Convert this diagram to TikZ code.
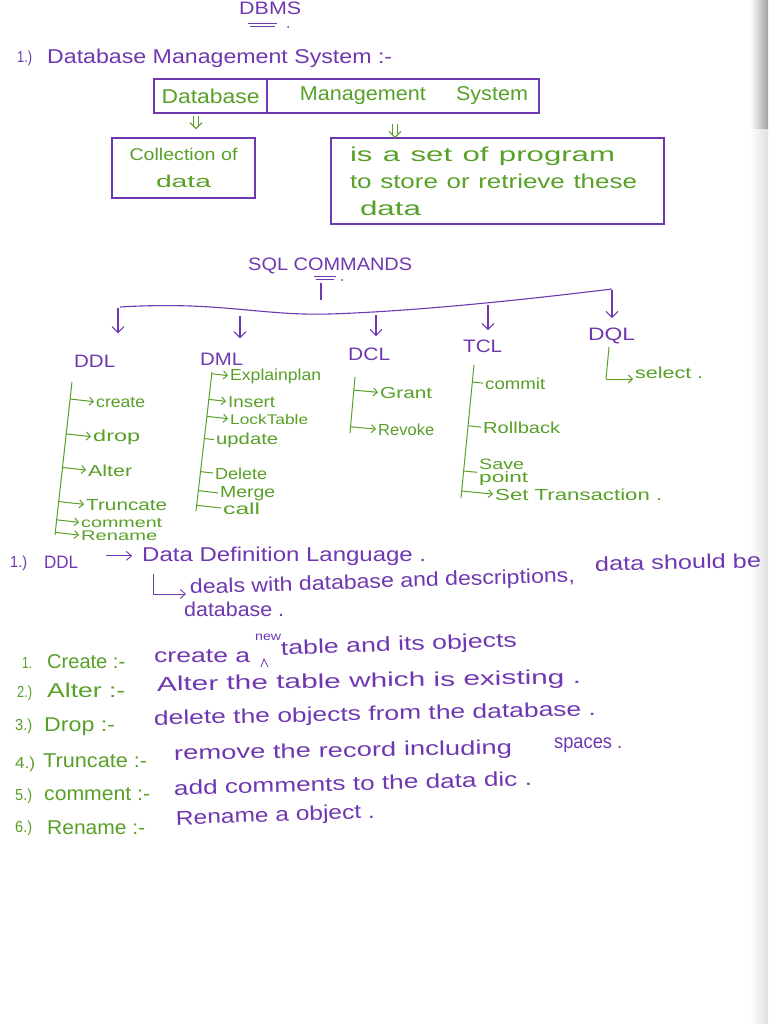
\documentclass[tikz,border=0pt]{standalone}
\usepackage{fontspec}
\setmainfont{Liberation Sans}
\usepackage{graphicx}
\usetikzlibrary{arrows.meta,calc}
\definecolor{pur}{RGB}{112,56,176}
\definecolor{grn}{RGB}{88,160,40}
\newcommand\fw[2]{\resizebox{#1pt}{\height}{#2}}
\tikzset{
 ptext/.style={text=pur, inner sep=0pt, anchor=base west, font=\fontsize{20}{24}\selectfont},
 gtext/.style={text=grn, inner sep=0pt, anchor=base west, font=\fontsize{20}{24}\selectfont},
 fsmall/.style={font=\fontsize{16}{19}\selectfont},
 ftiny/.style={font=\fontsize{14}{16}\selectfont},
 fhead/.style={font=\fontsize{18}{21}\selectfont},
 pline/.style={draw=pur, line width=1.1pt},
 gline/.style={draw=grn, line width=1pt},
 parr/.style={pline, -{Straight Barb[length=6pt,width=12pt]}},
 garr/.style={gline, -{Straight Barb[length=4pt,width=8pt]}, shorten >=2pt},
 gdash/.style={gline, shorten >=2pt},
 dblstem/.style={draw=grn, double, double distance=3.5pt, line width=1pt},
 pbox/.style={draw=pur, line width=1.1pt, text=grn, inner sep=0pt},
}
\begin{document}
\begin{tikzpicture}[x=1pt,y=-1pt]
\useasboundingbox (0,0) rectangle (768,1024);
\fill[white] (0,0) rectangle (768,1024);
\shade[left color=white, right color=gray!75] (750,0) rectangle (768,130);
\shade[left color=white, right color=gray!25] (750,130) rectangle (768,1024);

% ---- header
\node[ptext,fhead] (dbms) at (239,15) {\fw{62}{DBMS}};
\draw[pline,line width=0.8pt] (248,23) -- (277,23) (250,26) -- (275,26);
\fill[pur] (288,27) circle (1);
\node[ptext,fsmall] (n1) at (17,63) {\fw{15}{1.)}};
\node[ptext] (dbmsdef) at (47,64) {\fw{345}{Database Management System :-}};

% ---- boxes
\node[pbox, minimum width=113pt, minimum height=34pt, font=\fontsize{20}{24}\selectfont] (dbcell) at (210.5,96) {\fw{98}{Database}};
\node[pbox, minimum width=272pt, minimum height=34pt, font=\fontsize{20}{24}\selectfont] (mscell) at (403,96) {\hspace*{22pt}\fw{228}{Management\hspace{28pt}System}};
\node[pbox, minimum width=143pt, minimum height=60pt, align=center, font=\fontsize{17}{27}\selectfont] (coll) at (183.5,168) {\fw{108}{Collection of}\\\fw{55}{data}};
\node[pbox, minimum width=333pt, minimum height=86pt, text width=295pt, align=left, inner xsep=19pt, font=\fontsize{20}{27}\selectfont] (prog) at (497.5,181) {\fw{265}{is a set of program}\\\fw{287}{to store or retrieve these}\\\hspace*{10pt}\fw{61}{data}};

% double arrows (Database -> Collection, Management System -> program)
\coordinate (v1a) at ([xshift=-14.5pt]dbcell.south);
\coordinate (v1b) at ($(v1a)+(0,15)$);
\draw[dblstem] ($(v1a)+(0,2)$) -- ($(v1b)+(0,-2)$);
\draw[gline] ($(v1b)+(-6,-6)$) -- (v1b) -- ($(v1b)+(6,-6)$);
\coordinate (v2b) at ([xshift=-102.5pt]prog.north);
\coordinate (v2a) at ($(v2b)+(0,-13)$);
\draw[dblstem] (v2a) -- ($(v2b)+(0,-2)$);
\draw[gline] ($(v2b)+(-6,-6)$) -- (v2b) -- ($(v2b)+(6,-6)$);

% ---- SQL commands
\node[ptext,fhead] (sql) at (248,270) {\fw{164}{SQL COMMANDS}};
\draw[pline,line width=0.8pt] (314,276) -- (336,276) (316,279) -- (334,279);
\fill[pur] (342,280) circle (1);
\coordinate (stemtop) at (321,283);
\coordinate (stem) at (321,300);
\draw[pline] (stemtop) -- (stem);
\coordinate (barL) at (120,307);
\coordinate (barR) at (612,289);
\draw[pline] (barL) .. controls (220,301) and (260,316) .. (330,314) .. controls (420,311) and (530,299) .. (barR);

\node[ptext,fhead] (ddl) at (74,367) {\fw{41}{DDL}};
\node[ptext,fhead] (dml) at (200,365) {\fw{43}{DML}};
\node[ptext,fhead] (dcl) at (348,360) {\fw{42}{DCL}};
\node[ptext,fhead] (tcl) at (463,352) {\fw{39}{TCL}};
\node[ptext,fhead] (dql) at (588,340) {\fw{47}{DQL}};

\coordinate (a1) at (118,308);
\coordinate (a2) at (240,316);
\coordinate (a3) at (376,315);
\coordinate (a4) at (488,305);
\coordinate (a5) at (612,290);
\draw[parr, shorten >=21pt] (a1) -- (a1 |- ddl.north);
\draw[parr, shorten >=14pt] (a2) -- (a2 |- dml.north);
\draw[parr, shorten >=11pt] (a3) -- (a3 |- dcl.north);
\draw[parr, shorten >=9pt] (a4) -- (a4 |- tcl.north);
\draw[parr, shorten >=9pt] (a5) -- (a5 |- dql.north);

% DDL tree
\coordinate (dt1) at (72,382);
\coordinate (dt2) at (55,535);
\draw[gline] (dt1) -- (dt2);
\node[gtext,fsmall] (create) at (96,407) {\fw{49}{create}};
\node[gtext,fsmall] (drop) at (93,441) {\fw{47}{drop}};
\node[gtext,fsmall] (alter) at (88,476) {\fw{44}{Alter}};
\node[gtext,fsmall] (trunc) at (86,510) {\fw{81}{Truncate}};
\node[gtext,ftiny] (comm) at (81,527) {\fw{81}{comment}};
\node[gtext,ftiny] (renm) at (81,540) {\fw{76}{Rename}};
\foreach \n in {create,drop,alter,trunc,comm,renm}
  \draw[garr] ($(dt1)!(\n.west)!(dt2)$) -- (\n.west);

% DML tree
\coordinate (mt1) at (212,372);
\coordinate (mt2) at (196,511);
\draw[gline] (mt1) -- (mt2);
\node[gtext,fsmall] (expl) at (230,380) {\fw{91}{Explainplan}};
\node[gtext,fsmall] (ins) at (228,407) {\fw{47}{Insert}};
\node[gtext,ftiny] (lock) at (230,424) {\fw{78}{LockTable}};
\node[gtext,fsmall] (upd) at (216,444) {\fw{62}{update}};
\node[gtext,fsmall] (del) at (215,479) {\fw{52}{Delete}};
\node[gtext,fsmall] (mrg) at (220,497) {\fw{55}{Merge}};
\node[gtext,fsmall] (call) at (223,514) {\fw{37}{call}};
\foreach \n in {expl,ins,lock}
  \draw[garr] ($(mt1)!(\n.west)!(mt2)$) -- (\n.west);
\foreach \n in {upd,del,mrg,call}
  \draw[gdash] ($(mt1)!(\n.west)!(mt2)$) -- (\n.west);

% DCL tree
\coordinate (ct1) at (355,377);
\coordinate (ct2) at (350,433);
\draw[gline] (ct1) -- (ct2);
\node[gtext,fsmall] (grant) at (380,398) {\fw{52}{Grant}};
\node[gtext,fsmall] (revk) at (378,435) {\fw{56}{Revoke}};
\foreach \n in {grant,revk}
  \draw[garr] ($(ct1)!(\n.west)!(ct2)$) -- (\n.west);

% TCL tree
\coordinate (tt1) at (474,365);
\coordinate (tt2) at (461,498);
\draw[gline] (tt1) -- (tt2);
\node[gtext,fsmall] (comt) at (485,389) {\fw{60}{commit}};
\node[gtext,fsmall] (roll) at (483,433) {\fw{77}{Rollback}};
\node[gtext,fsmall, anchor=north west, align=left, font=\fontsize{15}{13}\selectfont] (save) at (479,459) {\fw{45}{Save}\\\fw{49}{point}};
\node[gtext,fsmall] (setx) at (495,500) {\fw{167}{Set Transaction .}};
\foreach \n in {comt,roll,save}
  \draw[gdash] ($(tt1)!(\n.west)!(tt2)$) -- (\n.west);
\draw[garr] ($(tt1)!(setx.west)!(tt2)$) -- (setx.west);

% DQL
\coordinate (qt1) at (609,347);
\coordinate (qt2) at (606,379);
\node[gtext,fsmall] (sel) at (635,378) {\fw{68}{select .}};
\draw[gline] (qt1) -- (qt2);
\draw[garr] (qt2) -- (qt2 -| sel.west);

% ---- DDL description
\node[ptext,fsmall] (n2) at (10,567) {\fw{17}{1.)}};
\node[ptext,fhead] (ddlb) at (44,568) {\fw{34}{DDL}};
\node[ptext] (defn) at (142,561) {\fw{284}{Data Definition Language .}};
\draw[parr, shorten <=28pt, shorten >=10pt, line width=0.9pt, -{Straight Barb[length=5pt,width=9pt]}] (ddlb.east |- defn.west) -- (defn.west);
\node[ptext, rotate=1.8] (deals) at (190,594) {\fw{385}{deals with database and descriptions,}};
\node[ptext, rotate=1.2] (deals2) at (595,571) {\fw{166}{data should be}};
\coordinate (hk) at (153,574);
\draw[pline, line width=0.9pt, -{Straight Barb[length=5pt,width=9pt]}, shorten >=4pt] (hk) |- (deals.base west);
\node[ptext] (dbase) at (184,616) {\fw{100}{database .}};

% rows
\node[gtext,fsmall] (r1n) at (22,668) {\fw{10}{1.}};
\node[gtext] (r1l) at (47,668) {\fw{78}{Create :-}};
\node[ptext] (r1a) at (154,662) {\fw{96}{create a}};
\node[ptext, font=\fontsize{12}{14}\selectfont] (r1new) at (255,640) {\fw{26}{new}};
\draw[pline, line width=0.8pt] (261,667) -- (264,659) -- (268,667);
\node[ptext, rotate=2] (r1b) at (281,655) {\fw{236}{table and its objects}};

\node[gtext,fsmall] (r2n) at (17,697) {\fw{15}{2.)}};
\node[gtext] (r2l) at (47,697) {\fw{78}{Alter :-}};
\node[ptext, rotate=1] (r2a) at (157,691) {\fw{424}{Alter the table which is existing .}};

\node[gtext,fsmall] (r3n) at (15,730) {\fw{17}{3.)}};
\node[gtext] (r3l) at (44,731) {\fw{71}{Drop :-}};
\node[ptext, rotate=1.2] (r3a) at (154,725) {\fw{442}{delete the objects from the database .}};

\node[gtext,fsmall] (r4n) at (15,768) {\fw{20}{4.)}};
\node[gtext] (r4l) at (43,767) {\fw{104}{Truncate :-}};
\node[ptext, rotate=1] (r4a) at (174,760) {\fw{338}{remove the record including}};
\node[ptext] (r4b) at (554,748) {\fw{68}{spaces .}};

\node[gtext,fsmall] (r5n) at (15,800) {\fw{17}{5.)}};
\node[gtext] (r5l) at (44,800) {\fw{106}{comment :-}};
\node[ptext, rotate=1.5] (r5a) at (174,795) {\fw{358}{add comments to the data dic .}};

\node[gtext,fsmall] (r6n) at (15,832) {\fw{17}{6.)}};
\node[gtext] (r6l) at (47,834) {\fw{98}{Rename :-}};
\node[ptext, rotate=2] (r6a) at (176,825) {\fw{199}{Rename a object .}};
\end{tikzpicture}
\end{document}
